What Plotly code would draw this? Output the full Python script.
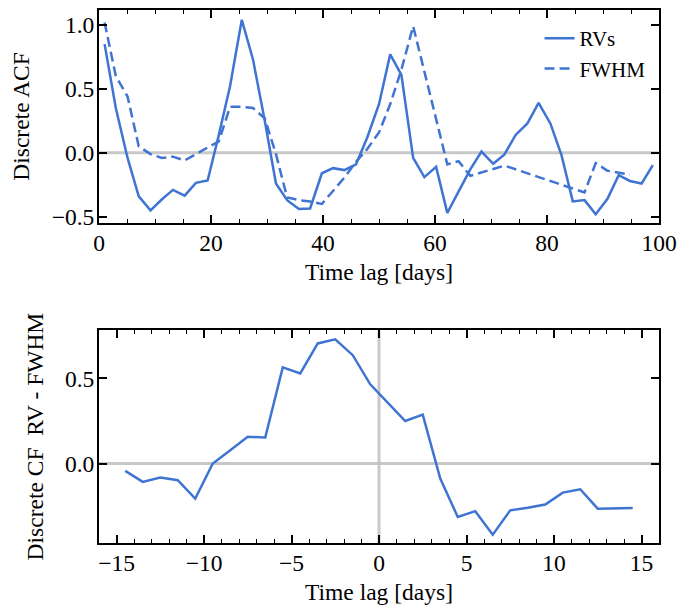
import plotly.graph_objects as go
from plotly.subplots import make_subplots

# ---- data ----
rv_lag = [1.0, 3.0, 5.1, 7.1, 9.2, 11.2, 13.2, 15.3, 17.3, 19.4, 21.4, 23.4, 25.5, 27.5,
          29.6, 31.6, 33.6, 35.7, 37.7, 39.8, 41.8, 43.8, 45.9, 47.9, 50.0, 52.0, 54.0,
          56.1, 58.1, 60.2, 62.2, 64.2, 66.3, 68.3, 70.4, 72.4, 74.4, 76.5, 78.5, 80.6,
          82.6, 84.6, 86.7, 88.7, 90.8, 92.8, 94.8, 96.9, 98.9]
rv_acf = [0.85, 0.35, -0.04, -0.34, -0.45, -0.365, -0.29, -0.335, -0.235, -0.216, 0.14,
          0.52, 1.04, 0.73, 0.25, -0.24, -0.37, -0.44, -0.435, -0.16, -0.12, -0.135, -0.09,
          0.12, 0.38, 0.77, 0.61, -0.04, -0.19, -0.11, -0.47, -0.30, -0.13, 0.01, -0.086,
          -0.013, 0.14, 0.23, 0.39, 0.23, -0.02, -0.38, -0.37, -0.48, -0.36, -0.175, -0.22,
          -0.24, -0.097]

fwhm_lag = [1.0, 3.0, 5.1, 7.1, 9.2, 11.2, 13.2, 15.3, 17.3, 19.4, 21.4, 23.4, 25.5, 27.5,
            29.6, 31.6, 33.6, 35.7, 37.7, 39.8, 41.8, 43.8, 45.9, 47.9, 50.0, 52.0, 54.0,
            56.1, 62.2, 64.2, 66.3, 72.4, 86.7, 88.7, 90.8, 92.8, 94.8]
fwhm_acf = [1.02, 0.60, 0.44, 0.05, -0.01, -0.04, -0.03, -0.06, -0.01, 0.04, 0.09, 0.36,
            0.36, 0.35, 0.27, -0.01, -0.35, -0.37, -0.38, -0.40, -0.30, -0.195, -0.07, 0.03,
            0.16, 0.38, 0.65, 0.99, -0.09, -0.065, -0.18, -0.10, -0.31, -0.08, -0.14, -0.155,
            -0.17]

cf_lag = [-14.5, -13.5, -12.5, -11.5, -10.5, -9.5, -8.5, -7.5, -6.5, -5.5, -4.5, -3.5,
          -2.5, -1.5, -0.5, 0.5, 1.5, 2.5, 3.5, 4.5, 5.5, 6.5, 7.5, 8.5, 9.5, 10.5, 11.5,
          12.5, 13.5, 14.5]
cf_val = [-0.043, -0.108, -0.082, -0.098, -0.206, 0.0, 0.078, 0.157, 0.153, 0.565, 0.53,
          0.706, 0.73, 0.637, 0.466, 0.36, 0.25, 0.288, -0.088, -0.314, -0.28, -0.418,
          -0.275, -0.26, -0.241, -0.171, -0.151, -0.265, -0.263, -0.261]

top_xticks = [0, 20, 40, 60, 80, 100]
top_yticks = [-0.5, 0.0, 0.5, 1.0]
top_ylabels = ["−0.5", "0.0", "0.5", "1.0"]
bot_xticks = [-15, -10, -5, 0, 5, 10, 15]
bot_yticks = [0.0, 0.5]
bot_ylabels = ["0.0", "0.5"]

# ---- style ----
BLUE = "#3f74d2"
GRAY = "rgba(190,190,190,0.85)"
FONT = "Liberation Serif"
FS = 23.5

fig = make_subplots(rows=2, cols=1)

fig.add_trace(go.Scatter(x=rv_lag, y=rv_acf, mode="lines", name="RVs",
                         line=dict(color=BLUE, width=2.5)), row=1, col=1)
fig.add_trace(go.Scatter(x=fwhm_lag, y=fwhm_acf, mode="lines", name="FWHM",
                         line=dict(color=BLUE, width=2.5, dash="10px,5px")), row=1, col=1)
fig.add_trace(go.Scatter(x=cf_lag, y=cf_val, mode="lines", showlegend=False,
                         line=dict(color=BLUE, width=2.5)), row=2, col=1)

# reference lines
fig.add_shape(type="line", xref="x domain", yref="y", x0=0, x1=1, y0=0, y1=0,
              line=dict(color=GRAY, width=3), layer="below")
fig.add_shape(type="line", xref="x2 domain", yref="y2", x0=0, x1=1, y0=0, y1=0,
              line=dict(color=GRAY, width=3), layer="below")
fig.add_shape(type="line", xref="x2", yref="y2 domain", x0=0, x1=0, y0=0, y1=1,
              line=dict(color=GRAY, width=3), layer="below")

axis_common = dict(showline=True, linecolor="black", linewidth=2, mirror="allticks",
                   ticks="inside", ticklen=8, tickwidth=1.5, tickcolor="black",
                   showgrid=False, zeroline=False, automargin=False,
                   tickfont=dict(family=FONT, size=FS, color="black"))
title_font = dict(family=FONT, size=FS, color="black")

fig.update_xaxes(axis_common)
fig.update_yaxes(axis_common)

fig.update_xaxes(row=1, col=1, range=[0, 100], tickvals=top_xticks,
                 domain=[0, 1], ticklabelstandoff=-2,
                 minor=dict(ticks="inside", dtick=5, ticklen=4, tickwidth=1.2,
                            tickcolor="black", showgrid=False),
                 title=dict(text="Time lag [days]", standoff=8, font=title_font))
fig.update_yaxes(row=1, col=1, range=[-0.548, 1.117], tickvals=top_yticks,
                 ticktext=top_ylabels, domain=[0.6006, 1.0], ticklabelstandoff=-2,
                 title=dict(text="Discrete ACF", standoff=15, font=title_font))
fig.update_xaxes(row=2, col=1, range=[-16, 16], tickvals=bot_xticks,
                 domain=[0, 1], ticklabelstandoff=-2,
                 minor=dict(ticks="inside", dtick=1, ticklen=4, tickwidth=1.2,
                            tickcolor="black", showgrid=False),
                 title=dict(text="Time lag [days]", standoff=8, font=title_font))
fig.update_yaxes(row=2, col=1, range=[-0.467, 0.784], tickvals=bot_yticks,
                 ticktext=bot_ylabels, domain=[0.0, 0.3993], ticklabelstandoff=-2,
                 title=dict(text="Discrete CF\u00a0\u00a0RV - FWHM", standoff=15,
                            font=title_font))

# the page body adds an 8 px offset, so the figure is sized/margined to compensate
fig.update_layout(
    width=686, height=600,
    margin=dict(l=91, r=35, t=2, b=65),
    paper_bgcolor="white", plot_bgcolor="white",
    font=dict(family=FONT, size=FS, color="black"),
    legend=dict(x=0.985, y=0.985, xanchor="right", yanchor="top",
                bgcolor="rgba(0,0,0,0)", borderwidth=0,
                font=dict(family=FONT, size=21, color="black")),
)

fig.write_html("out.html")
